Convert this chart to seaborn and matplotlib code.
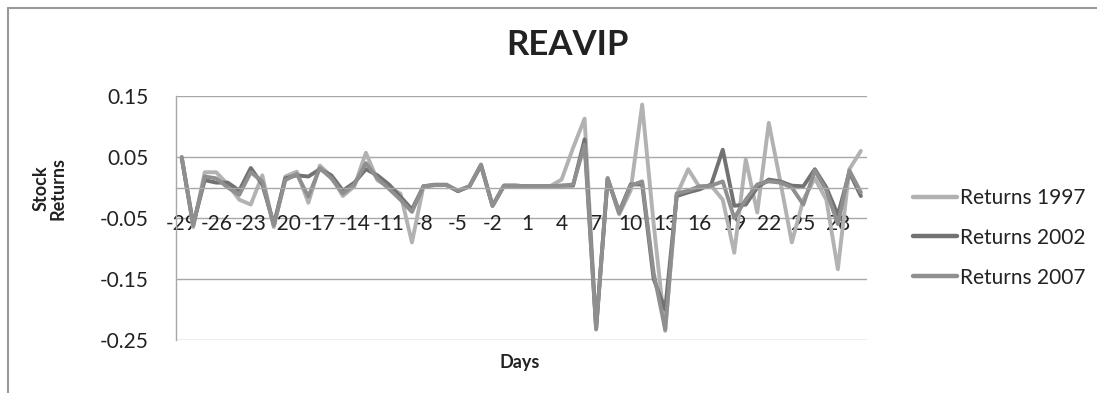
import numpy as np
import pandas as pd
import matplotlib
matplotlib.use("Agg")
import matplotlib.pyplot as plt
import seaborn as sns
from matplotlib.lines import Line2D

days = list(range(-29, 31))
returns_1997 = [0.050, -0.065, 0.025, 0.025, 0.005, -0.020, -0.028, 0.020, -0.065, 0.018,
                0.026, -0.025, 0.036, 0.018, -0.014, 0.002, 0.057, 0.012, 0.000, -0.010,
                -0.090, 0.002, 0.005, 0.005, -0.006, 0.002, 0.038, -0.030, 0.003, 0.003,
                0.002, 0.002, 0.002, 0.013, 0.065, 0.113, -0.233, 0.016, -0.044, -0.005,
                0.136, -0.060, -0.235, -0.012, 0.030, 0.000, 0.003, -0.020, -0.107, 0.046,
                -0.041, 0.106, 0.010, -0.090, -0.020, 0.015, -0.020, -0.134, 0.030, 0.060]
returns_2002 = [0.048, -0.060, 0.012, 0.008, 0.008, -0.005, 0.032, 0.005, -0.060, 0.015,
                0.020, 0.018, 0.030, 0.020, -0.005, 0.008, 0.030, 0.020, 0.005, -0.015,
                -0.036, 0.002, 0.004, 0.004, -0.006, 0.002, 0.036, -0.030, 0.003, 0.003,
                0.002, 0.002, 0.002, 0.003, 0.003, 0.079, -0.230, 0.014, -0.040, 0.005,
                0.005, -0.150, -0.200, -0.014, -0.008, -0.003, 0.005, 0.062, -0.030, -0.028,
                0.000, 0.013, 0.010, 0.003, 0.002, 0.030, 0.000, -0.045, 0.025, -0.014]
returns_2007 = [0.050, -0.062, 0.018, 0.015, 0.000, -0.012, 0.025, 0.010, -0.062, 0.012,
                0.022, -0.015, 0.032, 0.015, -0.010, 0.005, 0.040, 0.015, -0.002, -0.020,
                -0.040, 0.002, 0.004, 0.004, -0.005, 0.002, 0.037, -0.030, 0.003, 0.003,
                0.002, 0.002, 0.002, 0.003, 0.005, 0.070, -0.232, 0.015, -0.042, 0.003,
                0.010, -0.140, -0.233, -0.010, -0.005, 0.002, 0.003, 0.010, -0.050, -0.020,
                0.005, 0.010, 0.008, 0.000, -0.028, 0.028, -0.005, -0.060, 0.028, -0.008]
series_names = ["Returns 1997", "Returns 2002", "Returns 2007"]
y_ticks = [-0.25, -0.15, -0.05, 0.05, 0.15]

df = pd.concat([
    pd.DataFrame({"Days": days, "Returns": vals, "Series": name})
    for name, vals in zip(series_names, [returns_1997, returns_2002, returns_2007])
])

sns.set_theme(style="white")
plt.rcParams["font.family"] = ["Lato", "DejaVu Sans"]

fig = plt.figure(figsize=(10.97, 3.93), dpi=100)
ax = fig.add_axes([0.1604, 0.1349, 0.790 - 0.1604, 0.7557 - 0.1349])

palette = {"Returns 1997": "#b2b2b2", "Returns 2002": "#727272", "Returns 2007": "#8f8f8f"}
sns.lineplot(data=df, x="Days", y="Returns", hue="Series", palette=palette,
             linewidth=2.8, ax=ax, legend=False, sort=False)

ax.set_xlim(-29.5, 30.5)
ax.set_ylim(-0.25, 0.15)
ax.set_yticks(y_ticks)
ax.set_yticklabels([f"{t:.2f}" for t in y_ticks])
ax.set_xticks(days[::3])
ax.set_xticklabels([str(d) for d in days[::3]])

grid_c = "#a8a8a8"
ax.grid(False)
for t in y_ticks:
    ax.axhline(t, color=grid_c, linewidth=1.0, zorder=0)

for s in ["top", "right"]:
    ax.spines[s].set_visible(False)
ax.spines["bottom"].set_position(("data", 0))
ax.spines["bottom"].set_color(grid_c)
ax.spines["bottom"].set_linewidth(1.0)
ax.spines["left"].set_color(grid_c)
ax.spines["left"].set_linewidth(1.0)

ax.tick_params(axis="y", labelsize=15, pad=20, length=0, colors="#222222")
ax.tick_params(axis="x", labelsize=15, pad=19, length=0, colors="#222222")

ax.set_xlabel("")
ax.set_ylabel("")
fig.text(0.474, 0.077, "Days", ha="center", va="center", fontsize=13, fontweight="bold", color="#222222")
fig.text(0.045, 0.52, "Stock\nReturns", ha="center", va="center", rotation=90,
         fontsize=13, fontweight="bold", color="#222222", linespacing=1.0)
fig.text(0.517, 0.885, "REAVIP", ha="center", va="center", fontsize=25, fontweight="bold", color="#222222")

handles = [Line2D([0], [0], color=palette[n], linewidth=3.2) for n in series_names]
fig.legend(handles, series_names, loc="center left", bbox_to_anchor=(0.815, 0.395),
           frameon=False, fontsize=15, handlelength=2.1, handletextpad=0.15,
           labelspacing=0.95, labelcolor="#222222")

# chart frame edges (top and left visible)
fig.add_artist(Line2D([0.007, 1.0], [0.98, 0.98], transform=fig.transFigure, color="#999999", linewidth=1.5))
fig.add_artist(Line2D([0.007, 0.007], [0.0, 0.98], transform=fig.transFigure, color="#999999", linewidth=1.5))

fig.savefig("out.png", dpi=100, facecolor="white")
